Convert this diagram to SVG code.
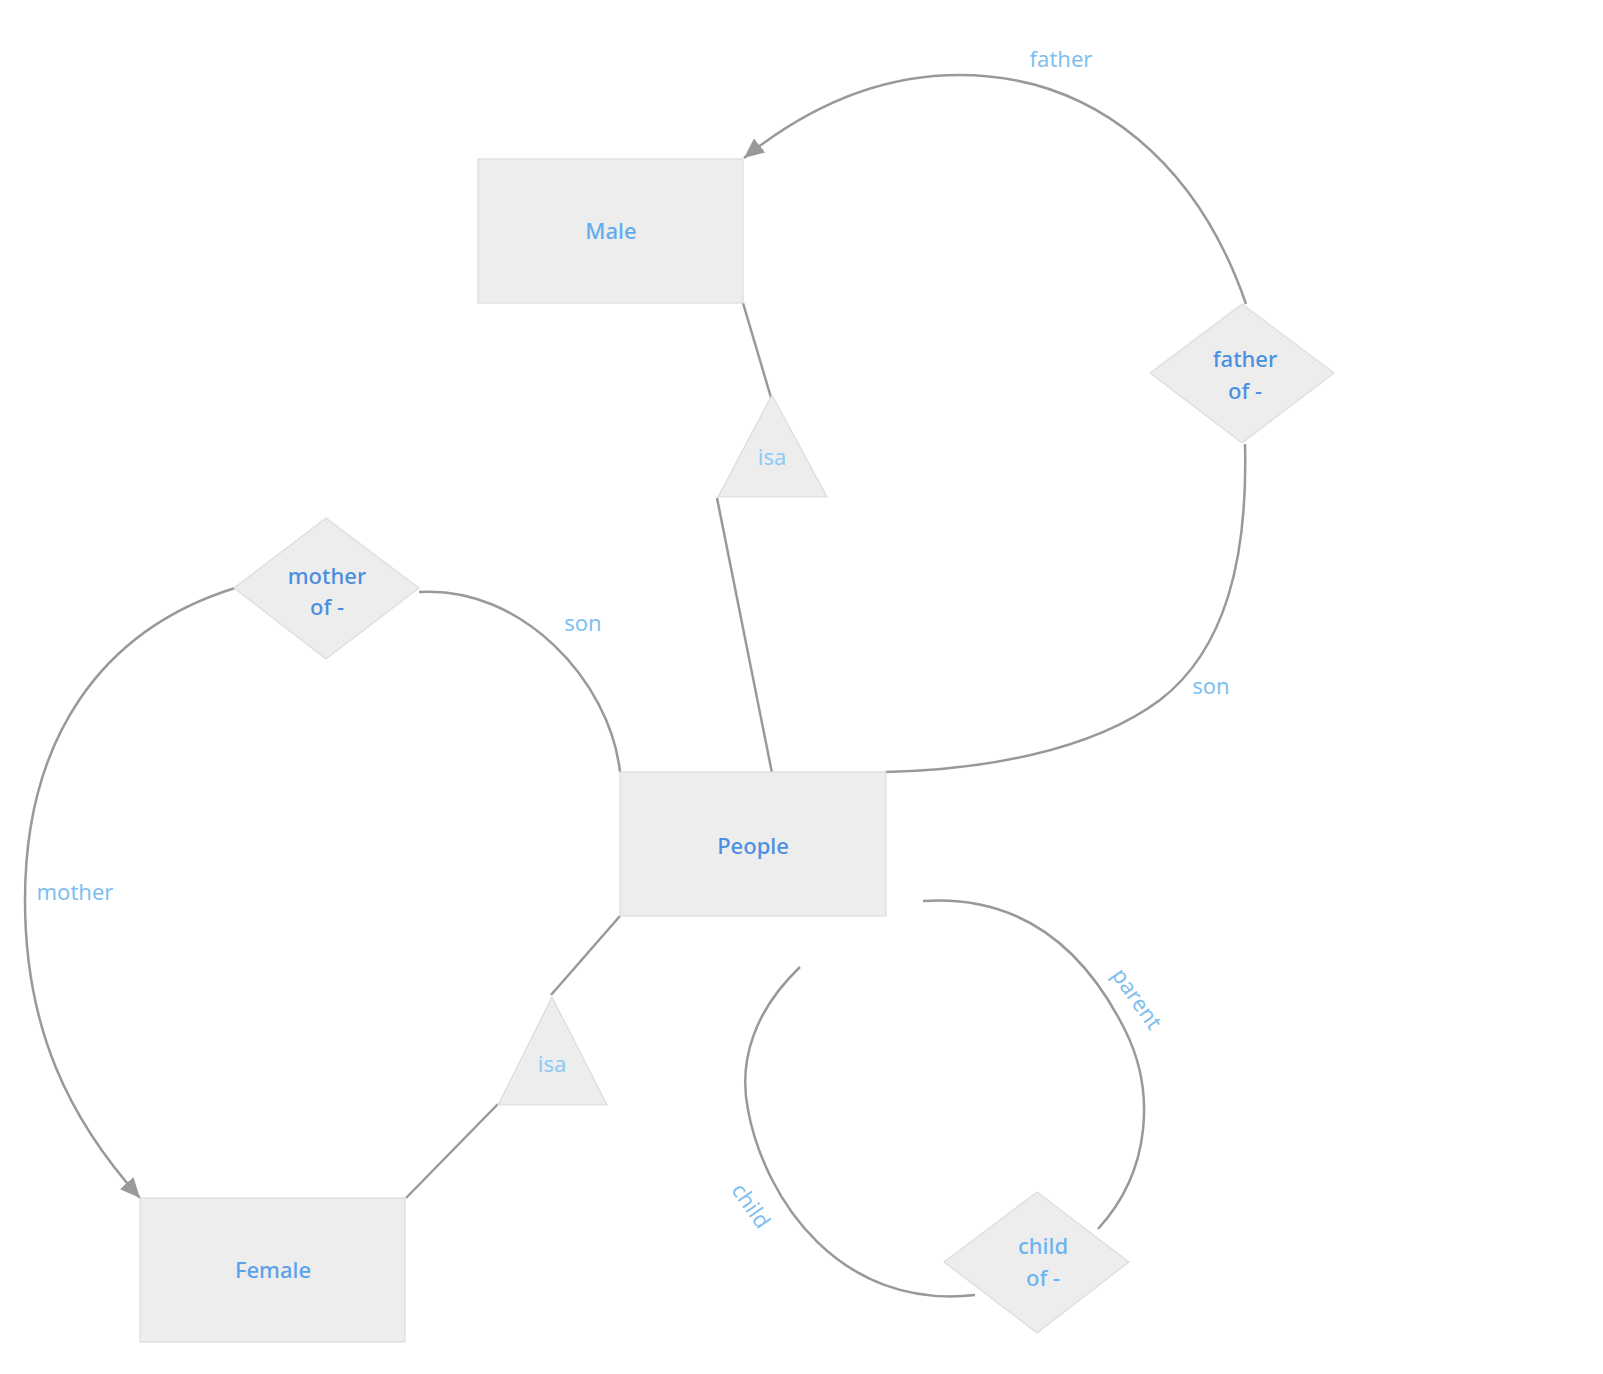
<svg xmlns="http://www.w3.org/2000/svg" width="1603" height="1374" viewBox="0 0 1603 1374">
<defs>
<marker id="arr" viewBox="0 0 20 18" refX="20" refY="9" markerWidth="20" markerHeight="18" markerUnits="userSpaceOnUse" orient="auto">
<path d="M0 0 L20 9 L0 18 Z" fill="#999"/>
</marker>
<style>
.node{fill:#ededed;stroke:#dcdcdc;stroke-width:1.2}
.lbl{font-family:"Noto Sans","Open Sans","Liberation Sans",sans-serif;font-size:22px;font-weight:500;text-anchor:middle;dominant-baseline:central}
.isa{font-family:"Noto Sans","Open Sans","Liberation Sans",sans-serif;font-size:22px;text-anchor:middle;dominant-baseline:central;fill:#8ccaf5}
.conn{fill:none;stroke:#999;stroke-width:2.5}
.el{font-family:"Noto Sans","Open Sans","Liberation Sans",sans-serif;font-size:22px;text-anchor:middle;dominant-baseline:central;fill:#7fbff0}
</style>
</defs>
<rect width="1603" height="1374" fill="#fff"/>
<g id="connectors">
<path class="conn" d="M743 303 L772 401"/>
<path class="conn" d="M717 498 L772 773"/>
<path class="conn" d="M620 916 L551 995"/>
<path class="conn" d="M498 1104 L406 1198"/>
<path class="conn" d="M1246 304 C1200 170 1100 75 959 75 C880 75 810 105 744 158" marker-end="url(#arr)"/>
<path class="conn" d="M1245 444 C1248 560 1225 650 1160 700 C1090 752 980 770 885 772"/>
<path class="conn" d="M419 592 C520 585 610 680 620 772"/>
<path class="conn" d="M235 588 C100 630 25 740 25 900 C25 1030 70 1120 140 1198" marker-end="url(#arr)"/>
<path class="conn" d="M923 901 C1030 894 1090 960 1125 1030 C1155 1090 1152 1170 1098 1229"/>
<path class="conn" d="M800 967 C755 1010 738 1060 748 1110 C765 1200 840 1310 975 1295"/>
<text class="el" x="1061" y="58">father</text>
<text class="el" x="1211" y="685">son</text>
<text class="el" x="583" y="622">son</text>
<text class="el" x="75" y="891">mother</text>
<text class="el" x="1138" y="998" fill="#62acee" transform="rotate(55 1138 998)">parent</text>
<text class="el" x="752" y="1205" fill="#62acee" transform="rotate(55 752 1205)">child</text>
</g>
<g id="male">
<rect class="node" x="478" y="159" width="265" height="144"/>
<text class="lbl" x="611" y="230" fill="#62acee">Male</text>
</g>
<g id="people">
<rect class="node" x="620" y="772" width="266" height="144"/>
<text class="lbl" x="753" y="845" fill="#4a90e2">People</text>
</g>
<g id="female">
<rect class="node" x="140" y="1198" width="265" height="144"/>
<text class="lbl" x="273" y="1269" fill="#5aa2ea">Female</text>
</g>
<g id="father-of">
<polygon class="node" points="1242,304 1334,373 1242,443 1150,373"/>
<text class="lbl" x="1245" y="358" fill="#4a90e2">father</text>
<text class="lbl" x="1245" y="390" fill="#4a90e2">of -</text>
</g>
<g id="mother-of">
<polygon class="node" points="326,518 419,588 326,659 234,588"/>
<text class="lbl" x="327" y="575" fill="#4a8ee0">mother</text>
<text class="lbl" x="327" y="606" fill="#4a8ee0">of -</text>
</g>
<g id="child-of">
<polygon class="node" points="1037,1192 1129,1262 1037,1333 944,1262"/>
<text class="lbl" x="1043" y="1245" fill="#6cb4f0">child</text>
<text class="lbl" x="1043" y="1277" fill="#6cb4f0">of -</text>
</g>
<g id="isa-male">
<polygon class="node" points="772,395 827,497 718,497" stroke="none"/>
<text class="isa" x="772" y="456">isa</text>
</g>
<g id="isa-female">
<polygon class="node" points="552,997 607,1105 498,1105" stroke="none"/>
<text class="isa" x="552" y="1063">isa</text>
</g>
</svg>
